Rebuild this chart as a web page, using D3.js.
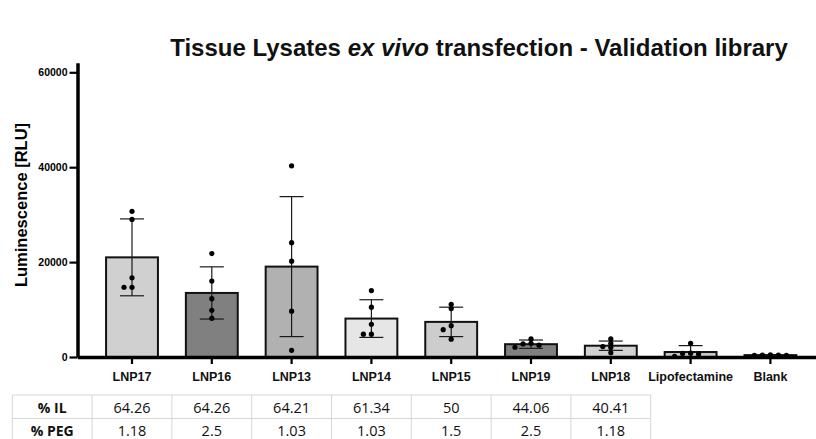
<!DOCTYPE html>
<html>
<head>
<meta charset="utf-8">
<script src="https://cdn.jsdelivr.net/npm/d3@7"></script>
<style>
  html, body { margin: 0; padding: 0; background: #fff; }
  svg { display: block; }
</style>
</head>
<body>
<svg id="chart" width="816" height="439"></svg>
<script>
// Formulations tested on tissue lysates
const categories = ["LNP17", "LNP16", "LNP13", "LNP14", "LNP15", "LNP19", "LNP18", "Lipofectamine", "Blank"];

// Mean luminescence (RLU) and standard deviation per formulation
const means = [21000, 13500, 19050, 8100, 7400, 2700, 2380, 1050, 400];
const sds   = [8100, 5500, 14750, 3970, 3100, 880, 980, 1350, 90];

// Individual replicate readings (RLU)
const replicates = [
  [30700, 29000, 16700, 14700, 14700],
  [21800, 16000, 12300, 9850, 8150],
  [40300, 24100, 20200, 9650, 1400],
  [14000, 10500, 6900, 4800, 4800],
  [11100, 10200, 6600, 5750, 3750],
  [3800, 2900, 2750, 2500, 2050],
  [3800, 2900, 2200, 2000, 900],
  [2900, 800, 750, 650, 150],
  [450, 400, 400, 350, 350]
];

// Composition table below the axis
const tableRowLabels = ["% IL", "% PEG"];
const ilValues  = ["64.26", "64.26", "64.21", "61.34", "50", "44.06", "40.41"];
const pegValues = ["1.18", "2.5", "1.03", "1.03", "1.5", "2.5", "1.18"];

const yTicks = [0, 20000, 40000, 60000];

// Bar fills, one per formulation
const barFills = ["#d0d0d0", "#808080", "#b1b1b1", "#e6e6e6", "#cdcdcd", "#808080", "#d2d2d2", "#c9c9c9", "#555555"];

const svg = d3.select("#chart");
const axisX = 77.5, baseY = 357;

const y = d3.scaleLinear().domain([0, 62000]).range([baseY, baseY - 62000 * 284.7 / 60000]);
const x = d3.scaleBand().domain(categories)
  .range([axisX, axisX + 79.8 * (categories.length - 0.35 + 2 * 0.358)])
  .paddingInner(0.35).paddingOuter(0.358);
const cx = d => x(d) + x.bandwidth() / 2;

// Title
const title = svg.append("text")
  .attr("x", 479).attr("y", 56)
  .attr("text-anchor", "middle")
  .style("font-family", "'Liberation Sans', Arial, sans-serif")
  .style("font-weight", "bold")
  .style("font-size", "24px")
  .attr("fill", "#111");
title.append("tspan").text("Tissue Lysates ");
title.append("tspan").style("font-style", "italic").text("ex vivo");
title.append("tspan").text(" transfection - Validation library");

// Bars
const bars = categories.map((c, i) => ({ c, i, m: means[i], sd: sds[i], pts: replicates[i] }));

svg.append("g").selectAll("rect").data(bars).join("rect")
  .attr("x", d => x(d.c))
  .attr("width", x.bandwidth())
  .attr("y", d => y(d.m))
  .attr("height", d => y(0) - y(d.m))
  .attr("fill", (d, i) => barFills[i])
  .attr("stroke", "#111")
  .attr("stroke-width", 2);

// Error bars (mean ± SD, clipped at zero)
const capHalf = 12;
const eb = svg.append("g").attr("stroke", "#1a1a1a").attr("stroke-width", 1.2);
bars.forEach(d => {
  const top = d.m + d.sd, bot = Math.max(0, d.m - d.sd);
  eb.append("line").attr("x1", cx(d.c)).attr("x2", cx(d.c)).attr("y1", y(top)).attr("y2", y(bot));
  eb.append("line").attr("x1", cx(d.c) - capHalf).attr("x2", cx(d.c) + capHalf).attr("y1", y(top)).attr("y2", y(top));
  if (d.m - d.sd > 0)
    eb.append("line").attr("x1", cx(d.c) - capHalf).attr("x2", cx(d.c) + capHalf).attr("y1", y(bot)).attr("y2", y(bot));
});

// Replicate points, spread sideways when they would overlap
const r = 2.6, step = 8;
const pg = svg.append("g").attr("fill", "#000");
bars.forEach(d => {
  const placed = [];
  d.pts.slice().sort((a, b) => b - a).forEach(v => {
    const py = y(v);
    const offsets = [0, -step, step, -2 * step, 2 * step];
    let ox = 0;
    for (const o of offsets) {
      if (placed.every(p => Math.hypot(p.x - o, p.y - py) >= 2 * r - 1)) { ox = o; break; }
    }
    placed.push({ x: ox, y: py });
    pg.append("circle").attr("cx", cx(d.c) + ox).attr("cy", py).attr("r", r);
  });
});

// Axes
const yAxis = svg.append("g").attr("transform", `translate(${axisX},0)`)
  .call(d3.axisLeft(y).tickValues(yTicks).tickFormat(d3.format("d")).tickSize(8).tickSizeOuter(0).tickPadding(2));
yAxis.select(".domain").attr("stroke", "#000").attr("stroke-width", 3.5);
yAxis.selectAll(".tick line").attr("stroke", "#000").attr("stroke-width", 2.2);
yAxis.selectAll(".tick text")
  .style("font-family", "'Liberation Sans', Arial, sans-serif")
  .style("font-weight", "bold").style("font-size", "10.5px").attr("fill", "#000");

const xAxis = svg.append("g").attr("transform", `translate(0,${baseY})`)
  .call(d3.axisBottom(x).tickSize(7).tickSizeOuter(0).tickPadding(8));
xAxis.select(".domain").attr("stroke", "#000").attr("stroke-width", 3.5);
xAxis.selectAll(".tick line").attr("stroke", "#000").attr("stroke-width", 2.2);
xAxis.selectAll(".tick text")
  .style("font-family", "'Liberation Sans', Arial, sans-serif")
  .style("font-weight", "bold").style("font-size", "12.5px").attr("fill", "#111");

// Y axis title
svg.append("text")
  .attr("transform", `translate(27,${205}) rotate(-90)`)
  .attr("text-anchor", "middle")
  .style("font-family", "'Liberation Sans', Arial, sans-serif")
  .style("font-weight", "bold").style("font-size", "16.5px")
  .attr("fill", "#000")
  .text("Luminescence [RLU]");

// Composition table
const stepW = x.step();
const tableCols = categories.slice(0, ilValues.length);
const left0 = cx(tableCols[0]) - stepW * 1.5;
const colEdges = [left0].concat(tableCols.map(c => cx(c) - stepW / 2), [cx(tableCols[tableCols.length - 1]) + stepW / 2]);
const rowEdges = [395, 418.5, 442];
const tg = svg.append("g");
const gridColor = "#d6d6d6";
rowEdges.forEach(ry => tg.append("line")
  .attr("x1", colEdges[0]).attr("x2", colEdges[colEdges.length - 1])
  .attr("y1", ry).attr("y2", ry).attr("stroke", gridColor).attr("stroke-width", 1));
colEdges.forEach(ex => tg.append("line")
  .attr("x1", ex).attr("x2", ex).attr("y1", rowEdges[0]).attr("y2", rowEdges[2])
  .attr("stroke", gridColor).attr("stroke-width", 1));

const rows = [ilValues, pegValues];
rows.forEach((vals, ri) => {
  const baseline = rowEdges[ri] + 17.5;
  tg.append("text")
    .attr("x", (colEdges[0] + colEdges[1]) / 2).attr("y", baseline)
    .attr("text-anchor", "middle")
    .style("font-family", "'Open Sans', sans-serif")
    .style("font-weight", "bold").style("font-size", "14px")
    .attr("fill", "#111").text(tableRowLabels[ri]);
  tg.selectAll(null).data(vals).join("text")
    .attr("x", (v, i) => cx(tableCols[i])).attr("y", baseline)
    .attr("text-anchor", "middle")
    .style("font-family", "'Open Sans', sans-serif")
    .style("font-size", "14.5px")
    .attr("fill", "#111").text(v => v);
});
</script>
</body>
</html>
